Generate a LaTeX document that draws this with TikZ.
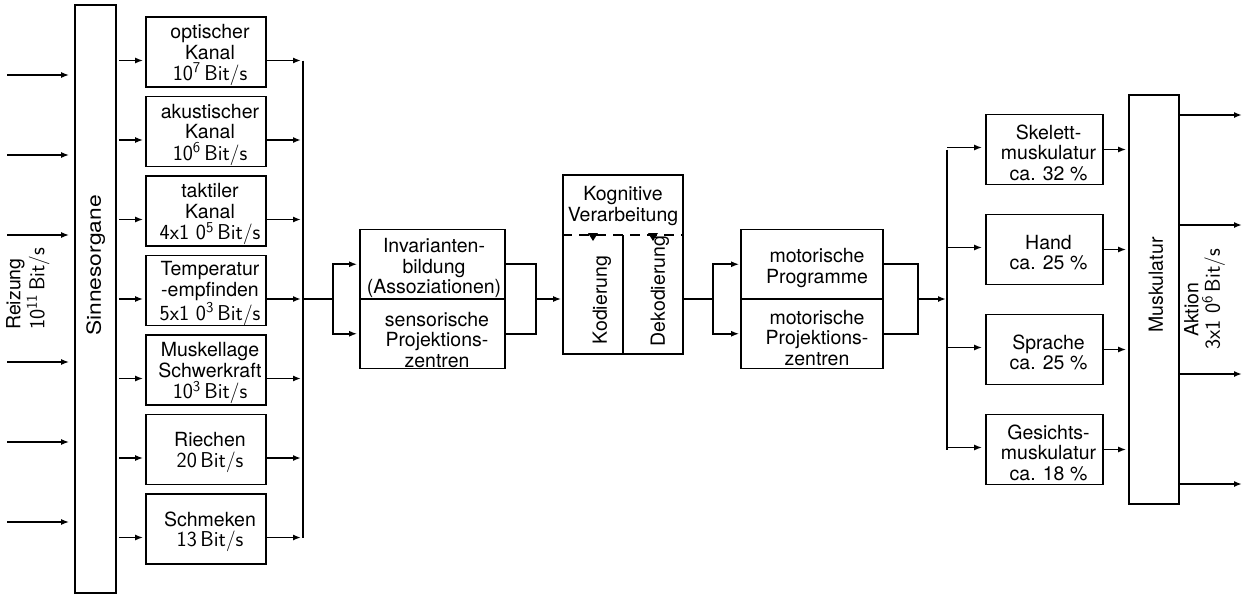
\documentclass[tikz,border=0pt]{standalone}
\usepackage{fontspec}
\setmainfont{TeX Gyre Heros}
\usetikzlibrary{arrows.meta}
% data rates are set in Latin Modern Sans with a math slash
\newcommand{\bitrate}[1]{{\sffamily\fontsize{21.5}{21.5}\selectfont #1\,Bit$/$s}}
\begin{document}
\begin{tikzpicture}[x=1pt,y=-1pt,
  font=\fontsize{19.5}{20.5}\selectfont,
  blk/.style={draw, line width=1.7pt, align=center, inner sep=0pt},
  txt/.style={align=center, inner sep=0pt},
  tx/.style={label={[txt,xshift=4pt,yshift=-3pt]center:#1}},
  chan/.style={blk, minimum width=120pt, minimum height=70pt},
  half/.style={blk, minimum width=145pt, minimum height=69.5pt},
  outbox/.style={blk, minimum width=117pt, minimum height=70pt},
  arr/.style={-{Latex[length=8pt,width=6pt]}, line width=1.7pt},
  wire/.style={line width=1.7pt},
  vlabel/.style={rotate=90, align=left, inner sep=0pt}]
\useasboundingbox (0,0) rectangle (1245,597);

% ---- sense organs ----
\node[blk, minimum width=41pt, minimum height=588pt] (sinn) at (95.5,299) {};
\node[vlabel, anchor=north west] (sinnL) at (86,336) {\scalebox{1.17}[1]{Sinnesorgane}};
\node[vlabel, anchor=north west] (reiz) at (6,330) {Reizung\\[1pt]\bitrate{10\textsuperscript{11}}};

\foreach \y [count=\i] in {75,155,235,362,442,522}
  \coordinate (in\i) at (7,\y);
\foreach \i in {1,...,6}
  \draw[arr] (in\i) -- ([xshift=-5pt]in\i -| sinn.west);

% ---- input channels ----
\node[chan, tx={optischer\\Kanal\\[1pt]\bitrate{10\textsuperscript{7}}}] (c1) at (206,52) {};
\node[chan, tx={akustischer\\Kanal\\[1pt]\bitrate{10\textsuperscript{6}}}] (c2) at (206,131.5) {};
\node[chan, tx={taktiler\\Kanal\\[1pt]\bitrate{4x1 0\textsuperscript{5}}}] (c3) at (206,211) {};
\node[chan, tx={Temperatur\\-empfinden\\[1pt]\bitrate{5x1 0\textsuperscript{3}}}] (c4) at (206,290.5) {};
\node[chan, tx={Muskellage\\Schwerkraft\\[1pt]\bitrate{10\textsuperscript{3}}}] (c5) at (206,370) {};
\node[chan, tx={Riechen\\\bitrate{20}}] (c6) at (206,449.5) {};
\node[chan, tx={Schmeken\\\bitrate{13}}] (c7) at (206,529) {};

\coordinate (busT) at (303,60);
\foreach \i in {1,...,7} {
  \coordinate (a\i) at ([yshift=-8.5pt]c\i.west);
  \draw[arr] ([xshift=2pt]a\i -| sinn.east) -- ([xshift=-2pt]a\i);
  \draw[arr] (a\i -| c\i.east) -- ([xshift=-2pt]a\i -| busT);
}
\draw[wire] (a1 -| busT) -- (a7 -| busT);

% ---- invariants / sensory projection ----
\node[half] (inv1) at (432.5,264.25) {};
\node[half] (inv2) at (432.5,333.75) {};
\node[txt] (inv1T) at (434,268) {Invarianten-\\bildung\\(Assoziationen)};
\node[txt] (inv2T) at (437,340) {sensorische\\Projektions-\\zentren};

\coordinate (j1) at (333,299);
\draw[wire] (a4 -| busT) -- (j1);
\draw[arr] (j1) |- ([xshift=-2pt]inv1.west);
\draw[arr] (j1) |- ([xshift=-2pt]inv2.west);

\coordinate (j2) at (536,299);
\draw[wire] (inv1.east) -| (j2);
\draw[wire] (inv2.east) -| (j2);

% ---- cognitive processing ----
\node[blk, minimum width=120pt, minimum height=179pt] (kog) at (623,264.5) {};
\node[txt] (kogT) at (623,206) {Kognitive\\Verarbeitung};
\coordinate (dsh) at (623,235);
\draw[wire, dash pattern=on 10pt off 7pt] (kog.west |- dsh) -- (kog.east |- dsh);
\draw[wire] (dsh) -- (dsh |- kog.south);
\fill (588,233) -- (598,233) -- (593,241) -- cycle;
\fill (648,233) -- (658,233) -- (653,241) -- cycle;
\node[vlabel] (kod) at (602,300) {Kodierung};
\node[vlabel] (dekod) at (660,291) {Dekodierung};

\draw[arr] (j2) -- ([xshift=-1pt]j2 -| kog.west);

% ---- motor programmes / projection ----
\node[blk, minimum width=142pt, minimum height=69.5pt] (mot1) at (812,264.25) {};
\node[blk, minimum width=142pt, minimum height=69.5pt] (mot2) at (812,333.75) {};
\node[txt] (mot1T) at (817,268) {motorische\\Programme};
\node[txt] (mot2T) at (817,338) {motorische\\Projektions-\\zentren};

\coordinate (j3) at (713,299);
\draw[wire] (kog.east |- j3) -- (j3);
\draw[arr] (j3) |- ([xshift=-1pt]mot1.west);
\draw[arr] (j3) |- ([xshift=-1pt]mot2.west);

\coordinate (j4) at (918,299);
\draw[wire] (mot1.east) -| (j4);
\draw[wire] (mot2.east) -| (j4);
\coordinate (bus2) at (947,299);
\draw[arr] (j4) -- ([xshift=-1pt]bus2);

% ---- muscle groups ----
\node[outbox, tx={Skelett-\\muskulatur\\ca. 32 \%}] (r1) at (1044.5,149.5) {};
\node[outbox, tx={Hand\\ca. 25 \%}] (r2) at (1044.5,249.5) {};
\node[outbox, tx={Sprache\\ca. 25 \%}] (r3) at (1044.5,349.5) {};
\node[outbox, tx={Gesichts-\\muskulatur\\ca. 18 \%}] (r4) at (1044.5,449.5) {};

\node[blk, minimum width=50pt, minimum height=409pt] (musk) at (1154,299.5) {};
\node[vlabel] (muskL) at (1156,285) {Muskulatur};

\draw[wire] (r1.west -| bus2) -- (r4.west -| bus2);
\foreach \i in {1,...,4} {
  \draw[arr] ([yshift=2pt]r\i.west -| bus2) -- ([xshift=-3pt,yshift=2pt]r\i.west);
  \draw[arr] (r\i.east) -- ([xshift=-2pt]r\i.east -| musk.west);
}

% ---- action outputs ----
\foreach \y [count=\i] in {115,225,374,484}
  \coordinate (o\i) at (1242,\y);
\foreach \i in {1,...,4}
  \draw[arr] (o\i -| musk.east) -- (o\i);
\node[vlabel, anchor=north west] (akt) at (1184,350) {\hspace*{13pt}Aktion\\[1pt]\bitrate{3x1 0\textsuperscript{6}}};
\end{tikzpicture}
\end{document}
